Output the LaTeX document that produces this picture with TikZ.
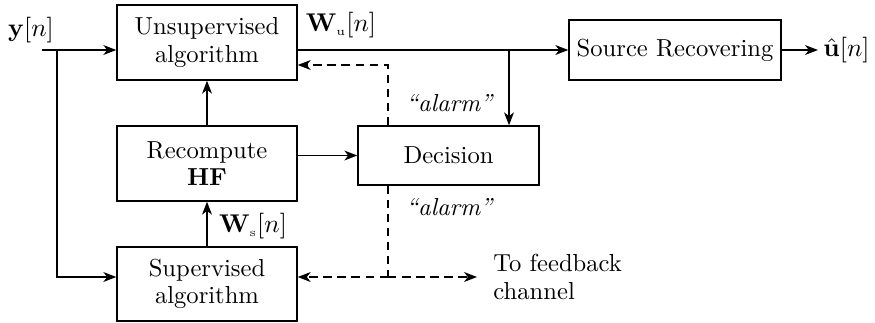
\documentclass[tikz,border=0pt]{standalone}
\usetikzlibrary{arrows.meta}
\begin{document}
\begin{tikzpicture}[x=0.015cm,y=-0.015cm,
  every node/.style={font=\fontsize{10.5pt}{11.8pt}\selectfont},
  blk/.style={draw,line width=0.6pt,align=center,inner sep=0pt},
  conn/.style={line width=0.6pt,-{Stealth[length=5.5pt,width=4.2pt,inset=1.6pt]}},
  dsh/.style={line width=0.6pt,dash pattern=on 3.6pt off 2.4pt},
  lbl/.style={inner sep=0pt}]
\useasboundingbox (0,0) rectangle (875,322);
\node[blk,minimum width=2.7cm,minimum height=1.125cm] (U) at (207,42.5) {Unsupervised\\algorithm};
\node[blk,minimum width=2.7cm,minimum height=1.125cm] (R) at (207,163.5) {Recompute\\\textbf{HF}};
\node[blk,minimum width=2.7cm,minimum height=1.11cm] (S) at (207,284) {Supervised\\algorithm};
\node[blk,minimum width=2.715cm,minimum height=0.885cm] (D) at (448.5,155.5) {Decision};
\node[blk,minimum width=3.18cm,minimum height=0.9cm] (SR) at (675,50) {Source Recovering};
\node[lbl] (y) at (31,30) {$\mathbf{y}[n]$};
\node[lbl] (wu) at (341,25) {$\mathbf{W}_{\scriptscriptstyle\mathrm{u}}[n]$};
\node[lbl] (ws) at (253,226) {$\mathbf{W}_{\scriptscriptstyle\mathrm{s}}[n]$};
\node[lbl,anchor=west] (uh) at (823,50) {$\hat{\mathbf{u}}[n]$};
\node[lbl] (a1) at (450,103) {\textit{``alarm''}};
\node[lbl] (a2) at (450,207) {\textit{``alarm''}};
\node[lbl,anchor=west,align=left] (fb) at (493,277) {To feedback\\channel};
\coordinate (yin) at (42,50);
\coordinate (br) at (57,50);
\coordinate (brd) at (57,277);
\coordinate (wb) at (509,50);
\coordinate (dt) at (388,65);
\coordinate (db) at (388,277);
\coordinate (fbe) at (477,277);
\coordinate (ue) at (297,50);
\coordinate (oute) at (818,50);
\draw[conn] (yin) -- (U.west |- yin);
\draw[conn] (br) -- (brd) -- (S.west |- brd);
\draw[conn] (R.north) -- (U.south);
\draw[conn] (S.north) -- (R.south);
\draw[conn] (R.east |- D.west) -- (D.west);
\draw[conn] (ue) -- (SR.west);
\draw[conn] (wb) -- (wb |- D.north);
\draw[conn] (SR.east) -- (oute);
\draw[dsh,-{Stealth[length=5.5pt,width=4.2pt,inset=1.6pt]}] (dt |- D.north) -- (dt) -- (U.east |- dt);
\draw[dsh] (dt |- D.south) -- (db);
\draw[dsh,-{Stealth[length=5.5pt,width=4.2pt,inset=1.6pt]}] (db) -- (S.east |- db);
\draw[dsh,-{Stealth[length=5.5pt,width=4.2pt,inset=1.6pt]}] (db) -- (fbe);
\end{tikzpicture}
\end{document}
